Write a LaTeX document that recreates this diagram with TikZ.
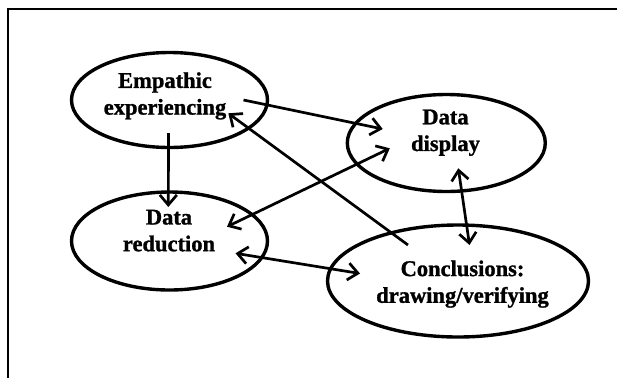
\documentclass[tikz,border=0pt]{standalone}
\usepackage{fontspec}
\setmainfont{Liberation Serif}[BoldFeatures={FakeBold=1.2}]
\usetikzlibrary{arrows.meta,shapes.geometric,calc}
\begin{document}
\begin{tikzpicture}[x=1pt,y=-1pt,
  bubble/.style={ellipse, draw, line width=3.4pt, inner sep=0pt},
  caption/.style={align=center, inner sep=0pt,
    font=\bfseries\fontsize{22.5}{26.7}\selectfont},
  barb/.tip={Straight Barb[length=10pt,width=17pt]},
  link/.style={line width=2.7pt, -barb},
  twoway/.style={line width=2.7pt, barb-barb}]
\useasboundingbox (0,0) rectangle (617,378);

% open frame: top and left edges only
\draw[line width=2pt] (7.5,378) -- (7.5,8.5) -- (617,8.5);

% the four stages
\node[bubble, minimum width=196pt, minimum height=95pt]  (emp)  at (169.5,100) {};
\node[bubble, minimum width=198pt, minimum height=97pt]  (disp) at (446.3,143) {};
\node[bubble, minimum width=196pt, minimum height=98pt]  (red)  at (169.5,241) {};
\node[bubble, minimum width=261pt, minimum height=112pt] (conc) at (458,281) {};

\node[caption] (emp-t)  at (165,95.9)  {Empathic\\experiencing};
\node[caption] (disp-t) at (445.5,132.7) {Data\\display};
\node[caption] (red-t)  at (169,230.6) {Data\\reduction};
\node[caption] (conc-t) at (462.5,284.1) {Conclusions:\\drawing/verifying};

% connector end points, placed relative to the stages
\coordinate (emp-a)  at ($(emp.center)+(74,0)$);
\coordinate (emp-b)  at ($(emp.center)+(-1,33)$);
\coordinate (emp-c)  at ($(emp.center)+(58.8,13.3)$);
\coordinate (disp-a) at ($(disp.center)+(-63.6,-14)$);
\coordinate (disp-b) at ($(disp.center)+(-56.5,5.3)$);
\coordinate (disp-c) at ($(disp.center)+(12,25.3)$);
\coordinate (red-a)  at ($(red.center)+(-1.2,-34)$);
\coordinate (red-b)  at ($(red.center)+(57.5,-14.3)$);
\coordinate (red-c)  at ($(red.center)+(66,12.3)$);
\coordinate (conc-a) at ($(conc.center)+(-50,-36)$);
\coordinate (conc-b) at ($(conc.center)+(11.5,-36)$);
\coordinate (conc-c) at ($(conc.center)+(-98,-7.5)$);

% connectors
\draw[link]   (emp-a)  -- (disp-a);
\draw[link]   (emp-b)  -- (red-a);
\draw[twoway] (red-b)  -- (disp-b);
\draw[link]   (conc-a) -- (emp-c);
\draw[twoway] (disp-c) -- (conc-b);
\draw[twoway] (red-c)  -- (conc-c);
\end{tikzpicture}
\end{document}
